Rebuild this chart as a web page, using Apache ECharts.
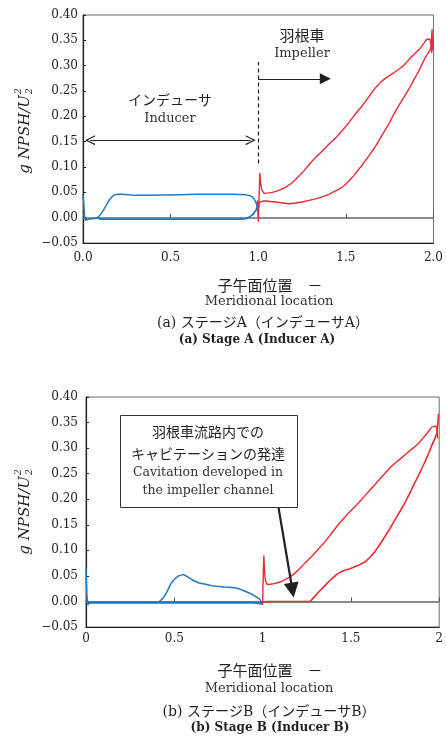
<!DOCTYPE html>
<html>
<head>
<meta charset="utf-8">
<script src="https://cdn.jsdelivr.net/npm/echarts@6/dist/echarts.min.js"></script>
<style>
  html, body { margin: 0; padding: 0; background: #fff; }
  #chart { width: 446px; height: 747px; }
</style>
</head>
<body>
<div id="chart"></div>
<script>
// Meridional NPSH distribution, x = meridional location (0-1 inducer, 1-2 impeller)

// Stage A
const stageA_inducerUpper = [[0,0.045],[0.004,0.03],[0.008,0.005],[0.012,-0.005],[0.02,-0.006],[0.03,-0.003],[0.05,-0.002],[0.075,-0.001],[0.09,0.002],[0.114,0.013],[0.135,0.026],[0.152,0.036],[0.17,0.043],[0.19,0.046],[0.22,0.046],[0.26,0.045],[0.3,0.044],[0.35,0.044],[0.4,0.044],[0.45,0.0445],[0.5,0.0445],[0.55,0.045],[0.6,0.0455],[0.65,0.046],[0.7,0.046],[0.75,0.046],[0.8,0.046],[0.85,0.046],[0.9,0.0455],[0.93,0.045],[0.955,0.043],[0.97,0.040],[0.98,0.035],[0.99,0.027],[0.996,0.018],[0.999,0.008],[1.0,0.0]];
const stageA_inducerLower = [[0.085,-0.001],[0.1,-0.003],[0.15,-0.003],[0.3,-0.003],[0.5,-0.003],[0.7,-0.003],[0.9,-0.003],[0.93,-0.002],[0.95,0.001],[0.965,0.005],[0.978,0.01],[0.988,0.015],[0.994,0.02],[0.997,0.034]];
const stageA_impellerUpper = [[1.0,-0.008],[1.005,0.04],[1.009,0.088],[1.013,0.07],[1.02,0.055],[1.033,0.048],[1.06,0.049],[1.08,0.050],[1.11,0.053],[1.137,0.057],[1.165,0.062],[1.194,0.069],[1.22,0.078],[1.251,0.0885],[1.298,0.108],[1.33,0.12],[1.364,0.131],[1.4,0.144],[1.441,0.157],[1.48,0.172],[1.516,0.187],[1.55,0.203],[1.592,0.220],[1.63,0.238],[1.668,0.256],[1.7,0.268],[1.725,0.275],[1.755,0.282],[1.782,0.288],[1.81,0.295],[1.829,0.300],[1.85,0.308],[1.876,0.318],[1.9,0.326],[1.924,0.334],[1.945,0.344],[1.961,0.352],[1.971,0.355],[1.98,0.352],[1.986,0.342],[1.99,0.325]];
const stageA_impellerLower = [[1.002,0.02],[1.005,0.03],[1.015,0.033],[1.03,0.033],[1.043,0.033],[1.07,0.032],[1.099,0.031],[1.14,0.029],[1.175,0.0275],[1.21,0.029],[1.251,0.031],[1.29,0.034],[1.327,0.037],[1.365,0.041],[1.402,0.046],[1.43,0.051],[1.459,0.056],[1.49,0.063],[1.516,0.072],[1.545,0.083],[1.573,0.095],[1.6,0.107],[1.63,0.121],[1.66,0.136],[1.687,0.151],[1.715,0.168],[1.744,0.184],[1.77,0.202],[1.8,0.220],[1.83,0.237],[1.857,0.252],[1.885,0.270],[1.914,0.288],[1.935,0.303],[1.952,0.315],[1.968,0.324],[1.981,0.331],[1.988,0.34],[1.992,0.372],[1.995,0.33]];

// Stage B
const stageB_inducerUpper = [[0,0.067],[0.002,0.04],[0.005,0.012],[0.008,0.0],[0.012,-0.007],[0.018,-0.002],[0.03,-0.002],[0.1,-0.002],[0.2,-0.002],[0.3,-0.002],[0.4,-0.002],[0.416,0.0],[0.435,0.006],[0.453,0.015],[0.467,0.025],[0.481,0.035],[0.495,0.041],[0.509,0.046],[0.525,0.050],[0.543,0.052],[0.556,0.052],[0.566,0.051],[0.585,0.046],[0.603,0.042],[0.62,0.039],[0.64,0.036],[0.67,0.034],[0.697,0.032],[0.725,0.030],[0.753,0.029],[0.78,0.0285],[0.809,0.028],[0.84,0.027],[0.865,0.025],[0.895,0.021],[0.921,0.017],[0.945,0.013],[0.968,0.008],[0.985,0.004],[0.993,0.002],[1.0,-0.006]];
const stageB_inducerLower = [[0.012,-0.002],[0.2,-0.002],[0.416,-0.002],[0.6,-0.002],[0.8,-0.002],[0.95,-0.002],[1.0,-0.004]];
const stageB_impellerUpper = [[1.0,-0.006],[1.003,0.04],[1.007,0.09],[1.011,0.06],[1.016,0.04],[1.026,0.033],[1.054,0.034],[1.08,0.036],[1.1,0.038],[1.125,0.042],[1.147,0.046],[1.175,0.053],[1.204,0.062],[1.24,0.075],[1.278,0.088],[1.315,0.102],[1.354,0.117],[1.39,0.133],[1.428,0.150],[1.455,0.161],[1.485,0.172],[1.515,0.183],[1.541,0.192],[1.58,0.207],[1.616,0.221],[1.655,0.236],[1.691,0.250],[1.72,0.261],[1.748,0.270],[1.776,0.278],[1.804,0.286],[1.83,0.294],[1.86,0.302],[1.885,0.310],[1.907,0.319],[1.927,0.327],[1.944,0.335],[1.958,0.341],[1.969,0.344],[1.98,0.343],[1.987,0.339],[1.991,0.319]];
const stageB_impellerLower = [[1.003,-0.002],[1.02,0.0],[1.1,0.0],[1.2,0.0],[1.269,0.0],[1.29,0.008],[1.316,0.018],[1.345,0.028],[1.372,0.038],[1.4,0.047],[1.428,0.055],[1.45,0.059],[1.466,0.061],[1.495,0.064],[1.522,0.068],[1.55,0.072],[1.579,0.077],[1.607,0.086],[1.635,0.097],[1.663,0.111],[1.691,0.126],[1.72,0.142],[1.748,0.159],[1.776,0.175],[1.804,0.192],[1.832,0.211],[1.86,0.231],[1.885,0.248],[1.907,0.264],[1.927,0.279],[1.944,0.293],[1.958,0.305],[1.972,0.316],[1.987,0.329],[1.992,0.348],[1.997,0.367]];

// Axis ticks
const xTicksA = ['0.0', '0.5', '1.0', '1.5', '2.0'];
const xTicksB = ['0', '0.5', '1', '1.5', '2'];
const yTicks = [-0.05, 0.00, 0.05, 0.10, 0.15, 0.20, 0.25, 0.30, 0.35, 0.40];

// Annotation anchors (data coordinates; head symbols are centred on the end points)
const dividerA = [[1.0, 0.107], [1.0, 0.307]];
const impellerArrowA = [[1.0, 0.274], [1.383, 0.274]];
const inducerArrowA = [[0.04, 0.153], [0.957, 0.153]];
const cavitationArrowB = [[1.09, 0.184], [1.169, 0.0223]];

const BLUE = '#1f79c3';
const RED = '#ec2a2f';
const INK = '#231f20';
const SERIF = '"DejaVu Serif", "Liberation Serif", serif';
const JP = '"DejaVu Serif", "Noto Sans CJK JP", sans-serif';

const chart = echarts.init(document.getElementById('chart'), null, { renderer: 'canvas' });

const yFmt = v => {
  const r = Math.round(v * 100) / 100;
  return r < 0 ? '\u2212' + Math.abs(r).toFixed(2) : r.toFixed(2);
};

function labelAxis(grid, labels, margin) {
  return {
    type: 'value', gridIndex: grid, position: 'bottom', min: 0, max: 2, interval: 0.5,
    axisLine: { onZero: false, lineStyle: { color: INK, width: 1.2 } },
    axisTick: { show: false },
    splitLine: { show: false },
    axisLabel: {
      margin: margin, color: INK, fontFamily: SERIF, fontSize: 12,
      formatter: v => labels[Math.round(v / 0.5)]
    }
  };
}
function zeroAxis(grid) {
  return {
    type: 'value', gridIndex: grid, position: 'bottom', min: 0, max: 2, interval: 0.5,
    axisLine: { onZero: true, lineStyle: { color: '#8c8c8c', width: 2 } },
    axisTick: { show: true, inside: true, length: 4, lineStyle: { color: '#555', width: 1 } },
    axisLabel: { show: false },
    splitLine: { show: false }
  };
}
function yAxis(grid, margin) {
  return {
    type: 'value', gridIndex: grid, min: -0.05, max: 0.40, interval: 0.05,
    axisLine: { show: true, onZero: false, lineStyle: { color: INK, width: 1.2 } },
    axisTick: { show: true, inside: true, length: 3, lineStyle: { color: INK } },
    splitLine: { show: false },
    axisLabel: { margin: margin, color: INK, fontFamily: SERIF, fontSize: 12, formatter: yFmt }
  };
}
function curve(xi, yi, data, color, width, z) {
  return {
    type: 'line', xAxisIndex: xi, yAxisIndex: yi, data: data,
    showSymbol: false, symbol: 'none', silent: true, animation: false,
    lineStyle: { color: color, width: width }, z: z || 3
  };
}
// arrow heads: open chevron for the span arrow, solid wedge for pointers
const openHead = 'path://M5,0 L10,10 L8.7,10 L5,2.6 L1.3,10 L0,10 Z';
const solidHead = 'path://M5,0 L10,12 L0,12 Z';
function annot(xi, yi, pair, startSym, endSym, style) {
  const end = (p, s) => s
    ? { coord: p, symbol: s.path, symbolSize: s.size }
    : { coord: p, symbol: 'none' };
  return {
    type: 'line', xAxisIndex: xi, yAxisIndex: yi, data: [], silent: true, animation: false,
    markLine: {
      silent: true, animation: false, label: { show: false },
      symbol: 'none',
      lineStyle: style,
      itemStyle: { color: style.color },
      emphasis: { disabled: true },
      data: [[end(pair[0], startSym), end(pair[1], endSym)]]
    }
  };
}
function txt(x, y, text, font, color) {
  return {
    type: 'text', x: x, y: y, silent: true,
    style: { text: text, font: font, fill: color || INK, align: 'center', verticalAlign: 'middle', textAlign: 'center', textVerticalAlign: 'middle' }
  };
}
function yName(cx, cy) {
  return {
    type: 'group', x: cx, y: cy, rotation: Math.PI / 2, silent: true,
    children: [
      { type: 'text', x: 34, y: 0, style: { text: 'g NPSH/U', font: 'italic 15px ' + SERIF, fill: INK, align: 'right', verticalAlign: 'middle', textAlign: 'right', textVerticalAlign: 'middle' } },
      { type: 'text', x: 35, y: 5, style: { text: '2', font: 'italic 9px ' + SERIF, fill: INK, align: 'left', verticalAlign: 'middle', textAlign: 'left', textVerticalAlign: 'middle' } },
      { type: 'text', x: 35, y: -6, style: { text: '2', font: 'italic 9px ' + SERIF, fill: INK, align: 'left', verticalAlign: 'middle', textAlign: 'left', textVerticalAlign: 'middle' } }
    ]
  };
}

const option = {
  backgroundColor: '#ffffff',
  animation: false,
  grid: [
    { left: 83, top: 15, width: 353, height: 228, show: true, borderColor: '#6a6a6a', borderWidth: 1, backgroundColor: 'transparent' },
    { left: 86, top: 397, width: 356, height: 230, show: true, borderColor: '#6a6a6a', borderWidth: 1, backgroundColor: 'transparent' }
  ],
  xAxis: [labelAxis(0, xTicksA, 9), zeroAxis(0), labelAxis(1, xTicksB, 6), zeroAxis(1)],
  yAxis: [yAxis(0, 5), yAxis(1, 8)],
  series: [
    curve(0, 0, stageA_inducerLower, BLUE, 1.8),
    curve(0, 0, stageA_inducerUpper, BLUE, 1.5),
    curve(0, 0, stageA_impellerLower, RED, 1.4),
    curve(0, 0, stageA_impellerUpper, RED, 1.4),
    annot(0, 0, dividerA, null, null, { color: INK, width: 1.2, type: [4, 3] }),
    annot(0, 0, impellerArrowA, null, { path: solidHead, size: 11 }, { color: INK, width: 1.2, type: 'solid' }),
    annot(0, 0, inducerArrowA, { path: openHead, size: 10 }, { path: openHead, size: 10 }, { color: INK, width: 1.2, type: 'solid' }),

    curve(2, 1, stageB_inducerLower, BLUE, 2.6),
    curve(2, 1, stageB_inducerUpper, BLUE, 1.5),
    curve(2, 1, stageB_impellerLower, RED, 1.6),
    curve(2, 1, stageB_impellerUpper, RED, 1.4),
    annot(2, 1, cavitationArrowB, null, { path: solidHead, size: 15 }, { color: INK, width: 2.2, type: 'solid' })
  ],
  graphic: [
    // stage A texts
    yName(25, 129),
    txt(302, 35, '羽根車', '15px "Noto Sans CJK JP"'),
    txt(302, 54, 'Impeller', '13px ' + SERIF, '#333'),
    txt(170, 100, 'インデューサ', '14px "Noto Sans CJK JP"'),
    txt(170, 119, 'Inducer', '13px ' + SERIF, '#333'),
    txt(270, 285, '子午面位置　－', '15px "Noto Sans CJK JP"'),
    txt(269, 302, 'Meridional location', '13px ' + SERIF, '#333'),
    txt(263, 323, '(a) ステージA（インデューサA）', '14px ' + JP),
    txt(257, 340, '(a) Stage A (Inducer A)', 'bold 12px ' + SERIF),

    // stage B texts
    yName(25, 510),
    { type: 'rect', shape: { x: 120.5, y: 415.5, width: 177, height: 92 }, style: { fill: '#ffffff', stroke: '#333', lineWidth: 1 }, z: 100 },
    Object.assign(txt(208, 432, '羽根車流路内での', '14px "Noto Sans CJK JP"'), { z: 101 }),
    Object.assign(txt(208, 454, 'キャビテーションの発達', '14px "Noto Sans CJK JP"'), { z: 101 }),
    Object.assign(txt(208, 473, 'Cavitation developed in', '12.5px ' + SERIF, '#333'), { z: 101 }),
    Object.assign(txt(208, 491, 'the impeller channel', '12.5px ' + SERIF, '#333'), { z: 101 }),
    txt(270, 670, '子午面位置　－', '15px "Noto Sans CJK JP"'),
    txt(269, 689, 'Meridional location', '13px ' + SERIF, '#333'),
    txt(269, 712, '(b) ステージB（インデューサB）', '14px ' + JP),
    txt(270, 728, '(b) Stage B (Inducer B)', 'bold 12px ' + SERIF)
  ]
};

chart.setOption(option);
</script>
</body>
</html>
